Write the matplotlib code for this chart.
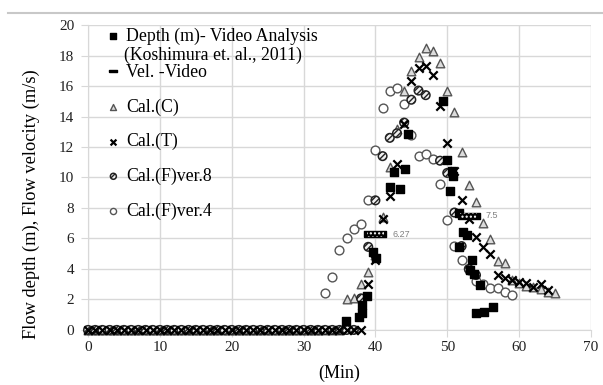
import matplotlib.pyplot as plt
from matplotlib.lines import Line2D

plt.rcParams['font.family'] = ['Liberation Serif', 'DejaVu Serif']

# depth from video analysis (Koshimura et al., 2011)
depth_t = [35.9, 37.7, 38.1, 38.2, 38.8, 39.7, 40.1, 42.0, 42.6, 43.4, 44.1, 44.5,
           49.4, 49.9, 50.4, 50.6, 50.8, 51.6, 51.7, 52.2, 52.7, 53.1, 53.4, 53.7,
           54.05, 54.5, 55.1, 56.4]
depth_v = [0.6, 0.87, 1.63, 1.13, 2.2, 5.1, 4.75, 9.37, 10.35, 9.26, 10.57, 12.85,
           15.0, 11.15, 9.1, 10.45, 10.1, 5.45, 7.7, 6.4, 6.2, 3.9, 4.6, 3.66,
           1.13, 2.94, 1.2, 1.48]

# velocity from video
vel_t = [40, 53]
vel_v = [6.27, 7.5]

# Cal.(C)
c_t = list(range(0, 66))
c_v = [0.0] * 36 + [2.0, 2.1, 3.0, 3.8, 4.9, 7.4, 10.7, 13.2, 15.7, 17.0, 17.9, 18.5,
                    18.3, 17.5, 15.7, 14.3, 11.7, 9.5, 8.4, 7.0, 5.95, 4.5, 4.4, 3.3,
                    3.1, 2.9, 2.8, 2.7, 2.5, 2.4]

# Cal.(T)
t_t = list(range(0, 65))
t_v = [0.0] * 39 + [3.0, 4.6, 7.3, 8.8, 10.9, 13.5, 16.3, 17.2, 17.3, 16.7, 14.7, 12.25,
                    10.4, 8.5, 7.3, 6.1, 5.45, 5.0, 3.6, 3.4, 3.25, 3.15, 3.05, 2.8,
                    3.0, 2.6]

# Cal.(F)ver.8
f8_t = list(range(0, 48)) + [49, 50, 51, 52, 53, 54]
f8_v = [0.0] * 38 + [2.07, 5.45, 8.5, 11.4, 12.6, 12.9, 13.6, 15.1, 15.7, 15.4,
                     11.1, 10.3, 7.7, 5.5, 4.0, 3.6]

# Cal.(F)ver.4
f4_t = list(range(0, 60))
f4_v = [0.0] * 33 + [2.44, 3.48, 5.27, 6.0, 6.6, 6.95, 8.54, 11.8, 14.55, 15.7, 15.9,
                     14.8, 12.8, 11.4, 11.55, 11.2, 9.55, 7.2, 5.5, 4.62, 3.9, 3.2,
                     3.0, 2.75, 2.75, 2.5, 2.3]

fig = plt.figure(figsize=(6.03, 3.85), dpi=100)
ax = fig.add_axes([0.146, 0.143, 0.834, 0.792])

bar = [(-1, -0.28), (1, -0.28), (1, 0.28), (-1, 0.28), (-1, -0.28)]

sc_c = ax.scatter(c_t, c_v, marker='^', s=38, facecolors='#dcdcdc',
                  edgecolors='#555555', linewidths=1, zorder=3, clip_on=False)
sc_f4 = ax.scatter(f4_t, f4_v, marker='o', s=40, facecolors='white',
                   edgecolors='#555555', linewidths=1, zorder=4, clip_on=False)
sc_f8 = ax.scatter(f8_t, f8_v, marker='o', s=38, facecolors='#f0f0f0',
                   edgecolors='#222222', linewidths=1.1, hatch='//////', zorder=5,
                   clip_on=False)
sc_t = ax.scatter(t_t, t_v, marker='x', s=36, color='black', linewidths=1.6, zorder=6,
                  clip_on=False)
sc_d = ax.scatter(depth_t, depth_v, marker='s', s=28, color='black', zorder=7)
ax.scatter(vel_t, vel_v, marker=bar, s=230, facecolors='black',
           edgecolors='black', linewidths=1, zorder=8)
ax.scatter(vel_t, vel_v, marker=bar, s=150, facecolors='none',
           edgecolors='white', linewidths=0, hatch='....', zorder=9)

for t, v in zip(vel_t, vel_v):
    ax.annotate(str(v), (t, v), xytext=(12, 0), textcoords='offset points',
                va='center', ha='left', fontsize=6.5, color='#808080',
                family='Liberation Sans')

ax.set_xlim(0, 70)
ax.set_ylim(0, 20)
ax.set_xticks(range(0, 71, 10))
ax.set_yticks(range(0, 21, 2))
ax.grid(True, color='#d8d8d8', linewidth=1)
ax.set_axisbelow(True)
for side in ['top', 'right']:
    ax.spines[side].set_visible(False)
for side in ['left', 'bottom']:
    ax.spines[side].set_color('#d8d8d8')
ax.tick_params(direction='out', length=5, color='#d8d8d8', labelsize=11,
               labelcolor='#222222')
ax.tick_params(axis='x', pad=3)
ax.tick_params(axis='y', pad=5)

ax.set_xlabel('(Min)', fontsize=13, labelpad=8)
ax.set_ylabel('Flow depth (m), Flow velocity (m/s)', fontsize=13.2)
ax.yaxis.set_label_coords(-0.095, 0.414)

# legend: the video depth entry sits on its own so the citation line fits under it
leg_opts = dict(loc='upper left', frameon=False, fontsize=12.8, labelspacing=0.97,
                handlelength=0.8, handletextpad=0.3, borderaxespad=0.2,
                scatterpoints=1, markerscale=0.7)
leg1 = ax.legend([sc_d], ['Depth (m)- Video Analysis'],
                 bbox_to_anchor=(0.015, 1.026), **leg_opts)
ax.add_artist(leg1)
ax.annotate('(Koshimura et. al., 2011)', xy=(0, 0), xycoords=leg1.get_texts()[0],
            xytext=(-1.5, -1), textcoords='offset points', va='top', ha='left',
            fontsize=12.8, zorder=10)

vel_handle = Line2D([], [], linestyle='none', marker=bar, markersize=9, color='black')
handles = [vel_handle, sc_c, sc_t, sc_f8, sc_f4]
labels = ['Vel. -Video', 'Cal.(C)', 'Cal.(T)', 'Cal.(F)ver.8', 'Cal.(F)ver.4']
ax.legend(handles, labels, bbox_to_anchor=(0.015, 0.906), **leg_opts)

fig.add_artist(Line2D([0.013, 1.0], [0.966, 0.966], transform=fig.transFigure,
                      color='#c8c8c8', linewidth=1.5))

fig.savefig('out.png', dpi=100)
